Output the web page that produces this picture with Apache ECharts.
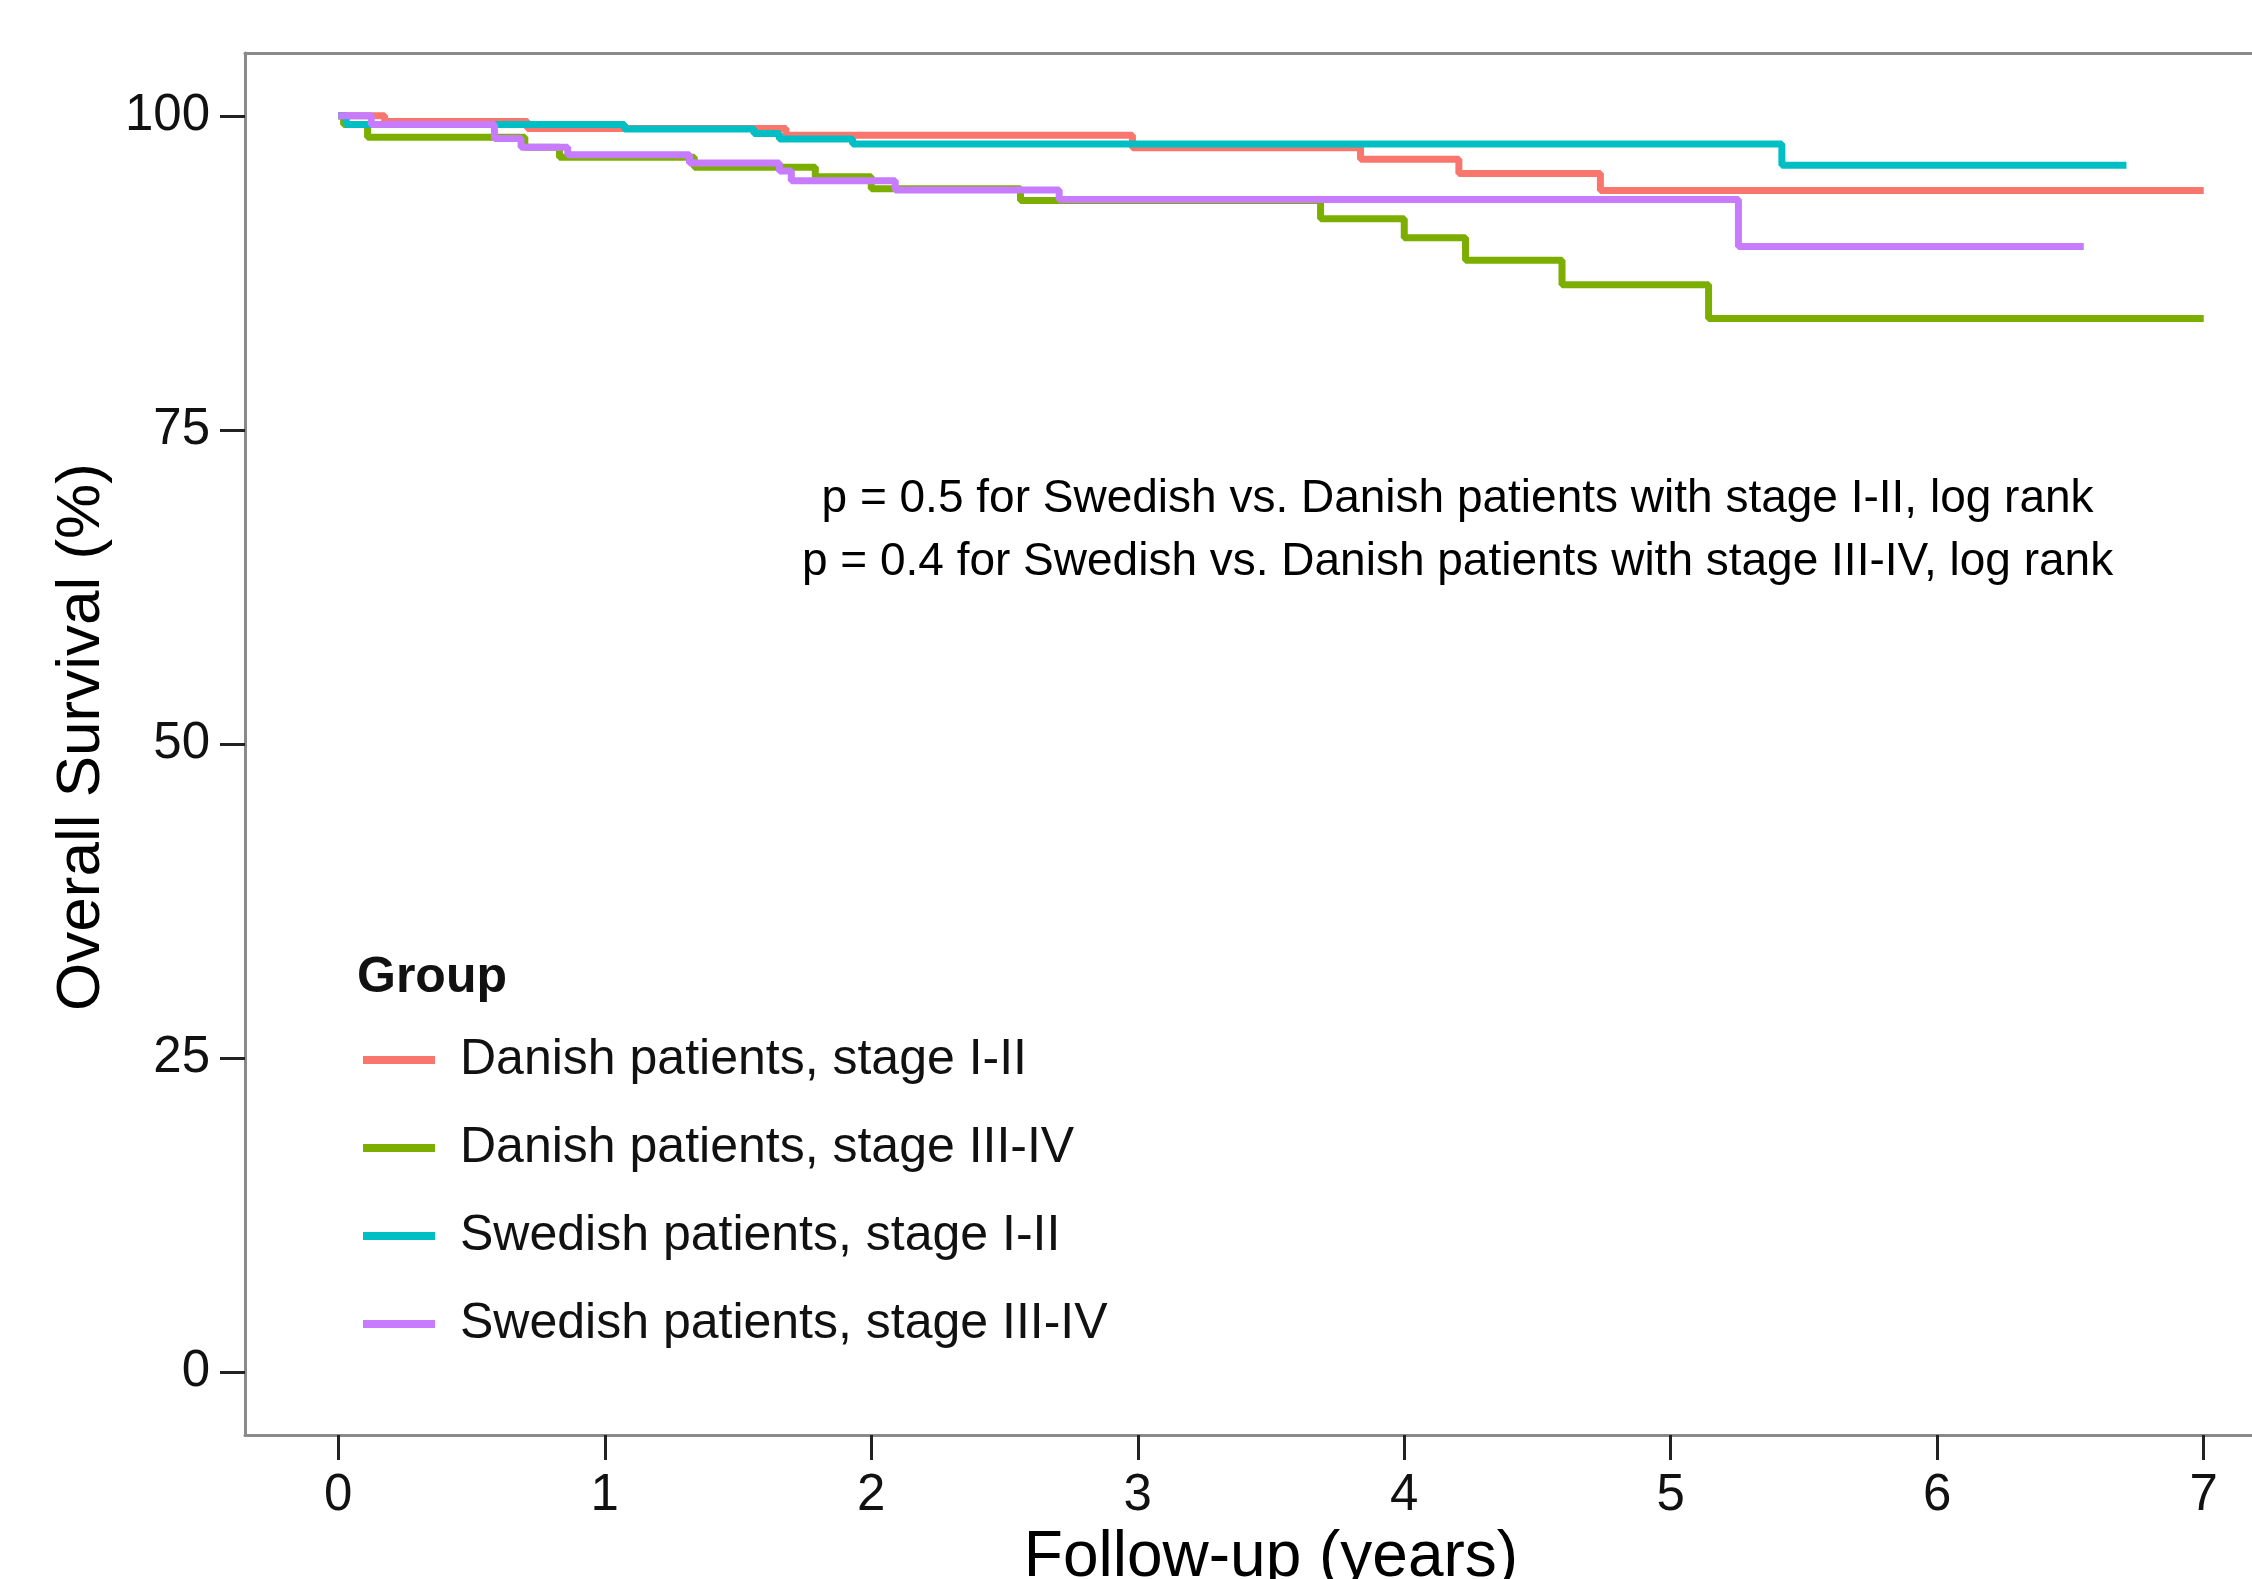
<!DOCTYPE html>
<html>
<head>
<meta charset="utf-8">
<script src="https://cdn.jsdelivr.net/npm/echarts@6/dist/echarts.min.js"></script>
<style>
html,body{margin:0;padding:0;background:#fff;overflow:hidden;}
#c{width:2252px;height:1579px;}
</style>
</head>
<body>
<div id="c"></div>
<script>
// ---- data ----
const groupNames = ['Danish patients, stage I-II','Danish patients, stage III-IV','Swedish patients, stage I-II','Swedish patients, stage III-IV'];
const groupColors = ['#F8766D','#7CAE00','#00BFC4','#C77CFF'];

const danishEarlyTime = [0, 0.174, 0.71, 1.68, 2.98, 3.836, 4.205, 4.736, 7.0];
const danishEarlySurv = [100, 99.55, 99.0, 98.45, 97.45, 96.55, 95.4, 94.05, 94.05];

const danishLateTime = [0, 0.02, 0.11, 0.70, 0.83, 1.336, 1.79, 2.0, 2.56, 3.686, 4.0, 4.23, 4.592, 5.142, 7.0];
const danishLateSurv = [100, 99.3, 98.3, 97.5, 96.7, 95.9, 95.16, 94.2, 93.25, 91.8, 90.3, 88.5, 86.56, 83.86, 83.86];

const swedishEarlyTime = [0, 0.03, 1.074, 1.56, 1.655, 1.93, 5.417, 6.71];
const swedishEarlySurv = [100, 99.3, 98.95, 98.6, 98.15, 97.75, 96.06, 96.06];

const swedishLateTime = [0, 0.124, 0.586, 0.686, 0.861, 1.318, 1.655, 1.70, 2.09, 2.705, 5.254, 6.55];
const swedishLateSurv = [100, 99.3, 98.2, 97.5, 96.9, 96.25, 95.6, 94.84, 94.1, 93.33, 89.6, 89.6];

const xTicks = [0, 1, 2, 3, 4, 5, 6, 7];
const yTicks = [0, 25, 50, 75, 100];

const annotX = [4.2, 4.2];
const annotY = [69.5, 64.5];
const annotText = ['p = 0.5 for Swedish vs. Danish patients with stage I-II, log rank',
                   'p = 0.4 for Swedish vs. Danish patients with stage III-IV, log rank'];

// ---- build ----
const timesList = [danishEarlyTime, danishLateTime, swedishEarlyTime, swedishLateTime];
const survList = [danishEarlySurv, danishLateSurv, swedishEarlySurv, swedishLateSurv];
const FONT = 'Liberation Sans, Arial, Helvetica, sans-serif';
const BORDER = '#8a8a8a';

const series = groupNames.map((name, i) => ({
  name: name,
  type: 'line',
  step: 'end',
  symbol: 'none',
  color: groupColors[i],
  lineStyle: {color: groupColors[i], width: 7},
  data: timesList[i].map((t, j) => [t, survList[i][j]]),
  z: 2 + i
}));

series.push({
  name: 'annotation',
  type: 'scatter',
  symbolSize: 0,
  silent: true,
  itemStyle: {opacity: 1},
  data: annotX.map((x, i) => [x, annotY[i], annotText[i]]),
  label: {
    show: true,
    position: 'inside',
    formatter: p => p.data[2],
    color: '#000',
    fontFamily: FONT,
    fontSize: 46
  }
});

const chart = echarts.init(document.getElementById('c'), null, {renderer: 'canvas'});
chart.setOption({
  animation: false,
  backgroundColor: '#fff',
  grid: {left: 245, top: 53, width: 2052, height: 1382, show: false, containLabel: false, outerBoundsMode: 'none'},
  title: {
    text: 'Group',
    left: 352, top: 948,
    textStyle: {fontFamily: FONT, fontSize: 50, fontWeight: 'bold', color: '#111'}
  },
  legend: {
    data: groupNames,
    orient: 'vertical',
    left: 363, top: 1035, padding: 0,
    itemWidth: 72, itemHeight: 8, itemGap: 38,
    icon: 'rect',
    itemStyle: {borderWidth: 0},
    textStyle: {fontFamily: FONT, fontSize: 50, color: '#111', padding: [0, 0, 0, 20], lineHeight: 50}
  },
  xAxis: [{
    type: 'value', min: -0.35, max: 7.35, position: 'bottom',
    name: 'Follow-up (years)', nameLocation: 'middle', nameGap: 76,
    nameTextStyle: {fontFamily: FONT, fontSize: 64, color: '#000'},
    axisLine: {show: true, onZero: false, lineStyle: {color: BORDER, width: 3}},
    axisTick: {show: true, length: 25, customValues: xTicks, lineStyle: {color: '#222', width: 3}},
    axisLabel: {customValues: xTicks, margin: 35, fontFamily: FONT, fontSize: 51, color: '#111'},
    splitLine: {show: false}
  }, {
    type: 'value', min: -0.35, max: 7.35, position: 'top',
    axisLine: {show: true, onZero: false, lineStyle: {color: BORDER, width: 3}},
    axisTick: {show: false}, axisLabel: {show: false}, splitLine: {show: false}
  }],
  yAxis: {
    type: 'value', min: -5, max: 105,
    name: 'Overall Survival (%)', nameLocation: 'middle', nameGap: 132,
    nameTextStyle: {fontFamily: FONT, fontSize: 62, color: '#000', padding: [0, 0, 0, 14]},
    axisLine: {show: true, onZero: false, lineStyle: {color: BORDER, width: 3}},
    axisTick: {show: true, length: 25, customValues: yTicks, lineStyle: {color: '#222', width: 3}},
    axisLabel: {customValues: yTicks, margin: 35, fontFamily: FONT, fontSize: 51, color: '#111'},
    splitLine: {show: false}
  },
  series: series
});
</script>
</body>
</html>
